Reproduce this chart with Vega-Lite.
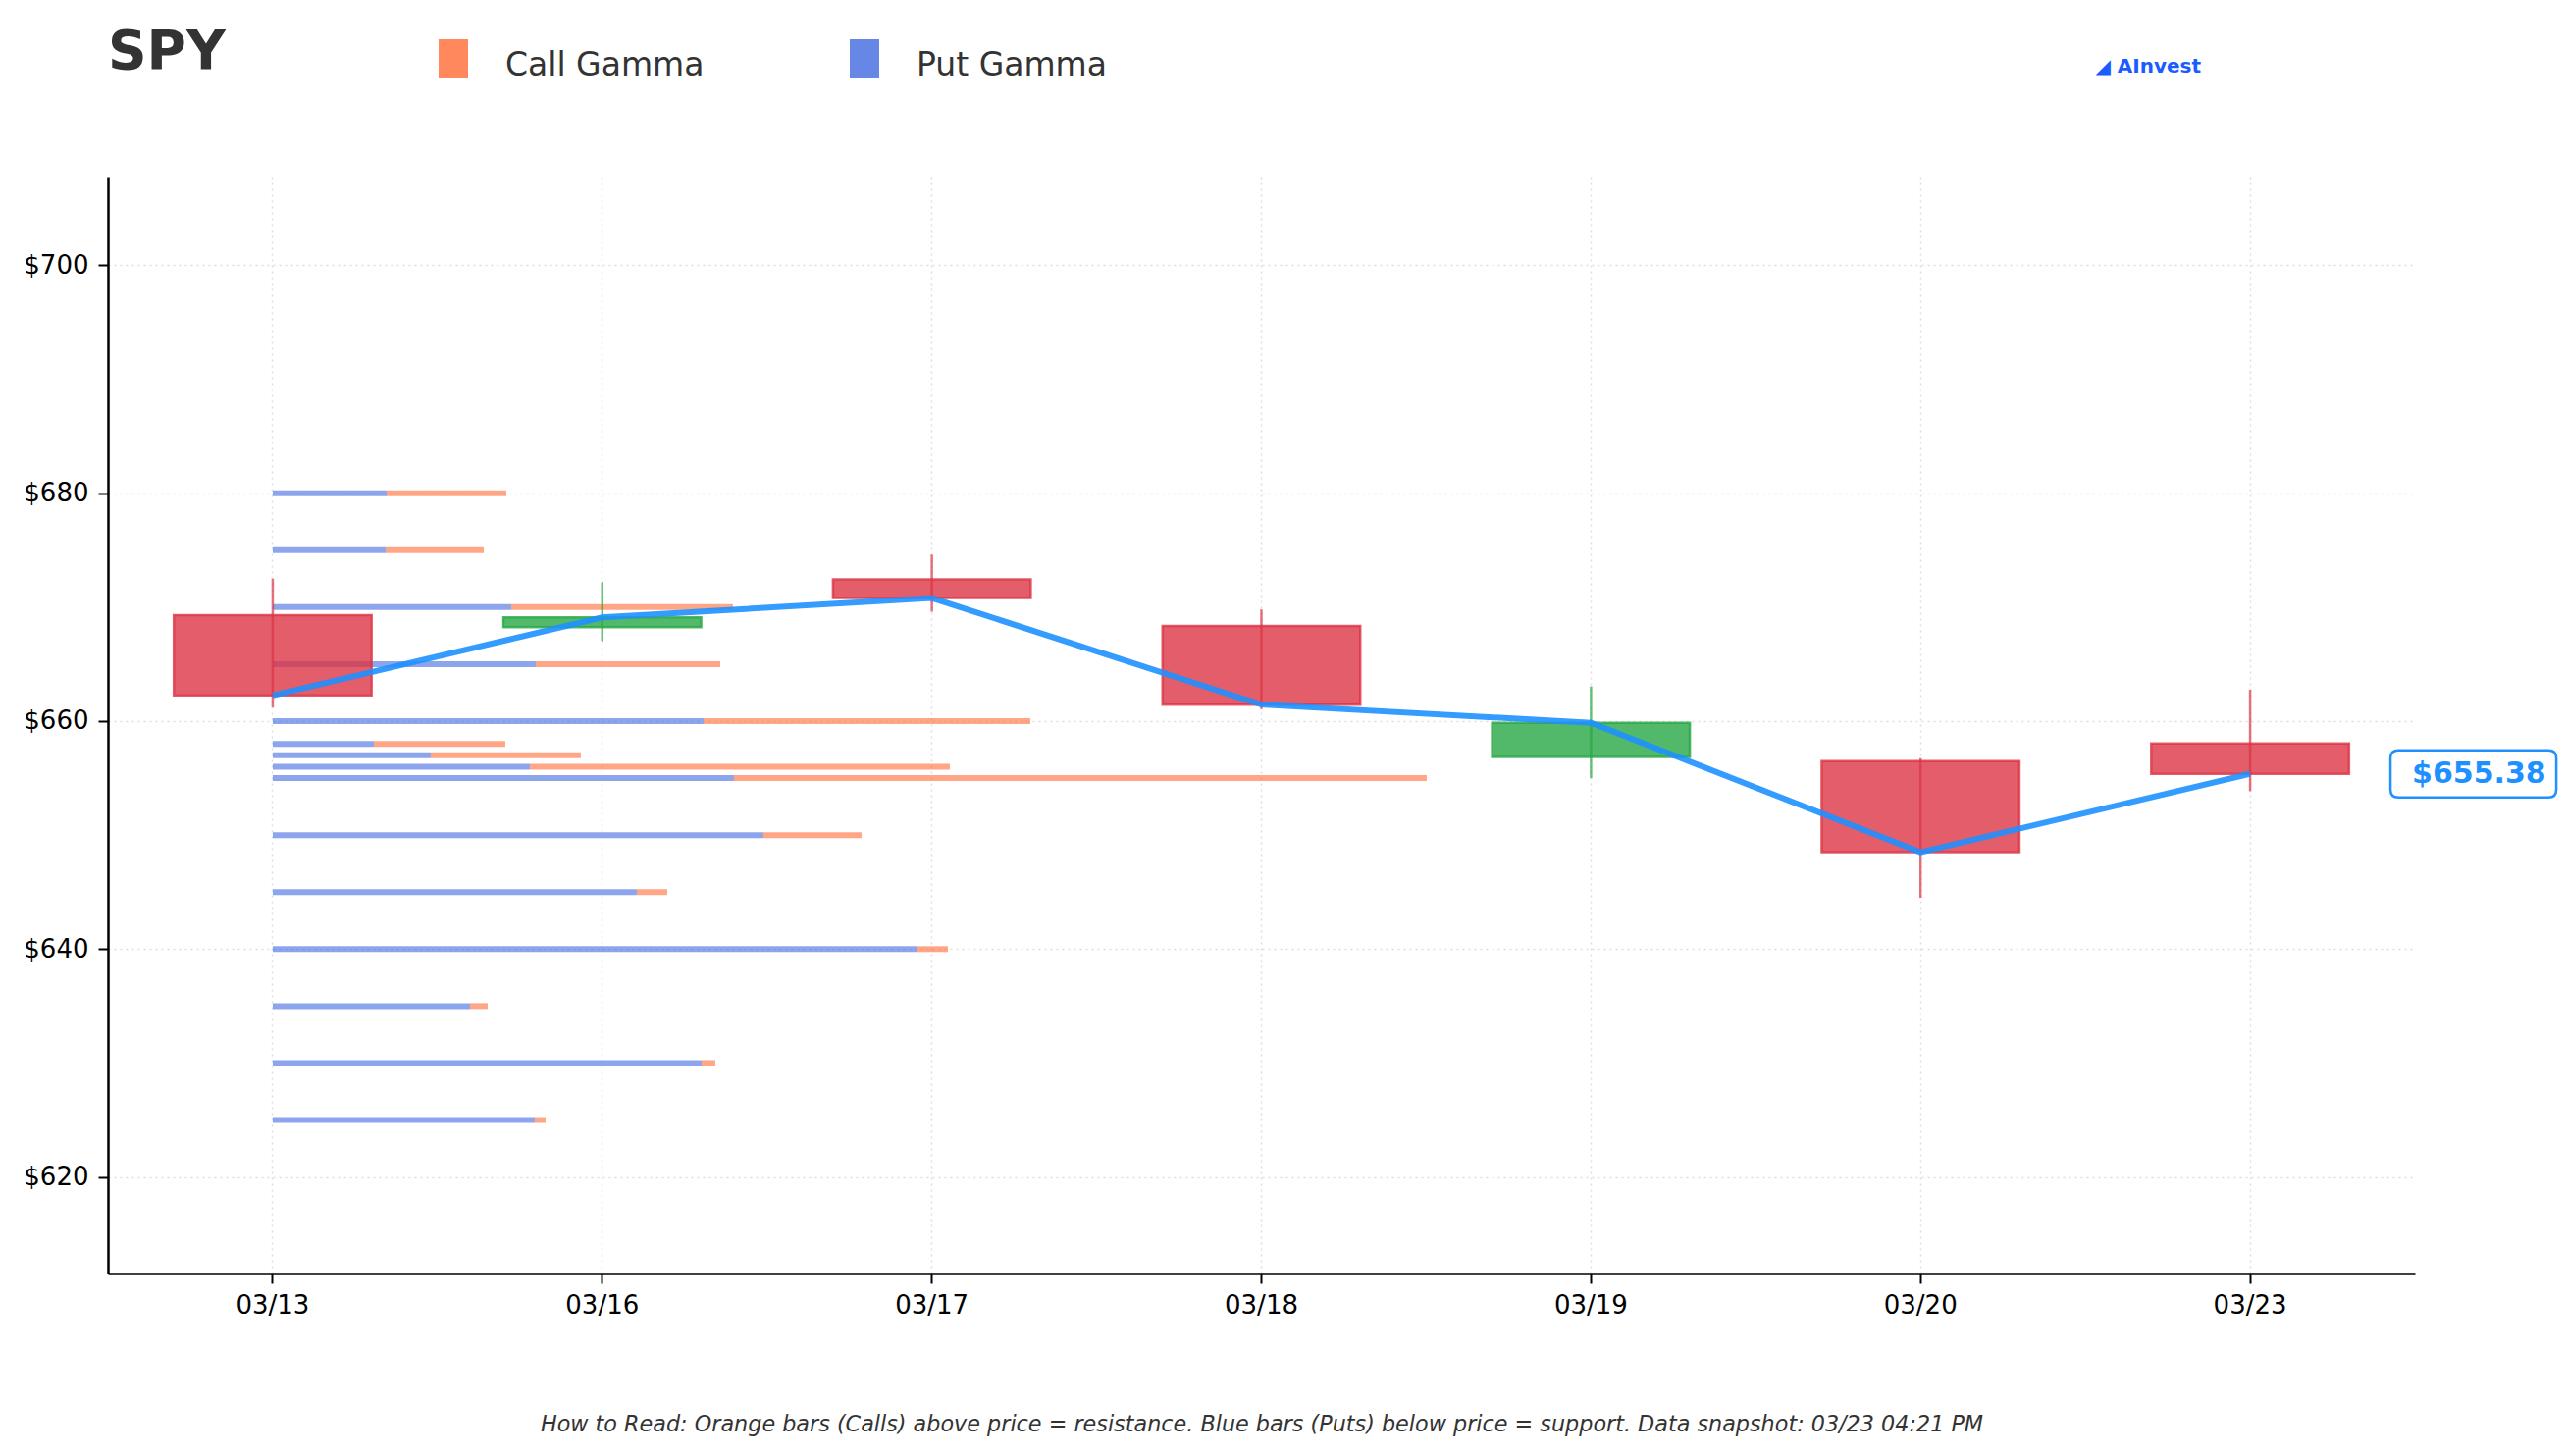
{
  "$schema": "https://vega.github.io/schema/vega-lite/v6.json",
  "width": 2351,
  "height": 1118,
  "autosize": {"type": "none"},
  "padding": {"left": 110, "top": 180, "right": 155, "bottom": 186},
  "background": "white",
  "config": {"font": "DejaVu Sans", "view": {"stroke": null}},
  "title": {"text": "SPY", "anchor": "start", "frame": "group", "fontSize": 55, "fontWeight": "bold", "color": "#333333", "offset": -78, "baseline": "alphabetic", "font": "DejaVu Sans"},
  "datasets": {
    "candles": [
      {"date": "03/13", "open": 669.3, "high": 672.5, "low": 661.2, "close": 662.25},
      {"date": "03/16", "open": 668.25, "high": 672.2, "low": 667.0, "close": 669.1},
      {"date": "03/17", "open": 672.45, "high": 674.6, "low": 669.6, "close": 670.8},
      {"date": "03/18", "open": 668.35, "high": 669.8, "low": 661.05, "close": 661.45},
      {"date": "03/19", "open": 656.85, "high": 663.05, "low": 655.0, "close": 659.85},
      {"date": "03/20", "open": 656.5, "high": 656.75, "low": 644.5, "close": 648.5},
      {"date": "03/23", "open": 658.05, "high": 662.75, "low": 653.85, "close": 655.38}
    ],
    "gamma": [
      {"strike": 680, "type": "Put Gamma", "gamma": 116}, {"strike": 680, "type": "Call Gamma", "gamma": 122},
      {"strike": 675, "type": "Put Gamma", "gamma": 115}, {"strike": 675, "type": "Call Gamma", "gamma": 100},
      {"strike": 670, "type": "Put Gamma", "gamma": 243}, {"strike": 670, "type": "Call Gamma", "gamma": 226},
      {"strike": 665, "type": "Put Gamma", "gamma": 268}, {"strike": 665, "type": "Call Gamma", "gamma": 188},
      {"strike": 660, "type": "Put Gamma", "gamma": 439}, {"strike": 660, "type": "Call Gamma", "gamma": 333},
      {"strike": 658, "type": "Put Gamma", "gamma": 103}, {"strike": 658, "type": "Call Gamma", "gamma": 134},
      {"strike": 657, "type": "Put Gamma", "gamma": 161}, {"strike": 657, "type": "Call Gamma", "gamma": 153},
      {"strike": 656, "type": "Put Gamma", "gamma": 262}, {"strike": 656, "type": "Call Gamma", "gamma": 428},
      {"strike": 655, "type": "Put Gamma", "gamma": 470}, {"strike": 655, "type": "Call Gamma", "gamma": 706},
      {"strike": 650, "type": "Put Gamma", "gamma": 500}, {"strike": 650, "type": "Call Gamma", "gamma": 100},
      {"strike": 645, "type": "Put Gamma", "gamma": 371}, {"strike": 645, "type": "Call Gamma", "gamma": 31},
      {"strike": 640, "type": "Put Gamma", "gamma": 657}, {"strike": 640, "type": "Call Gamma", "gamma": 31},
      {"strike": 635, "type": "Put Gamma", "gamma": 201}, {"strike": 635, "type": "Call Gamma", "gamma": 18},
      {"strike": 630, "type": "Put Gamma", "gamma": 437}, {"strike": 630, "type": "Call Gamma", "gamma": 14},
      {"strike": 625, "type": "Put Gamma", "gamma": 267}, {"strike": 625, "type": "Call Gamma", "gamma": 11}
    ]
  },
  "layer": [
    {
      "data": {"name": "gamma"},
      "mark": {"type": "bar", "height": 6, "opacity": 0.6, "orient": "horizontal"},
      "encoding": {
        "x": {"field": "gamma", "type": "quantitative", "stack": "zero", "scale": {"domain": [-167.95, 2183.05], "nice": false, "zero": false}, "axis": null},
        "y": {"field": "strike", "type": "quantitative", "scale": {"domain": [611.96, 707.35], "nice": false, "zero": false},
          "axis": {"title": "◢ AInvest", "titleAngle": 0, "titleX": 2025, "titleY": -113, "titleAlign": "left", "titleBaseline": "middle", "titleFontSize": 20, "titleFontWeight": "bold", "titleColor": "#1A5CFF",
            "values": [620, 640, 660, 680, 700], "labelExpr": "'$' + datum.value", "labelFontSize": 26, "labelColor": "#000000", "labelPadding": 10,
            "tickSize": 10, "tickWidth": 2, "tickColor": "#000000", "domainColor": "#000000", "domainWidth": 2.5,
            "grid": true, "gridColor": "#dddddd", "gridWidth": 1.5, "gridDash": [2, 4]}},
        "color": {"field": "type", "type": "nominal", "scale": {"domain": ["Call Gamma", "Put Gamma"], "range": ["#FF6B35", "#4169E1"]},
          "legend": {"orient": "none", "legendX": 332, "legendY": -133.5, "direction": "horizontal", "title": null, "padding": 0,
            "labelFontSize": 33, "labelColor": "#333333", "labelOffset": 33, "labelLimit": 500, "columnPadding": 143,
            "symbolType": "M-0.75,-1.325L0.75,-1.325L0.75,0.675L-0.75,0.675Z", "symbolSize": 1600, "symbolOpacity": 0.8, "symbolStrokeWidth": 0}},
        "order": {"field": "type", "sort": "descending"}
      }
    },
    {
      "data": {"name": "candles"},
      "layer": [
        {
          "mark": {"type": "bar", "width": {"band": 0.6}, "fillOpacity": 0.8, "strokeOpacity": 0.8, "strokeWidth": 2.5},
          "encoding": {
            "x": {"field": "date", "type": "ordinal", "scale": {"type": "band", "paddingInner": 0, "paddingOuter": 0},
              "axis": {"title": "How to Read: Orange bars (Calls) above price = resistance. Blue bars (Puts) below price = support. Data snapshot: 03/23 04:21 PM",
                "titleFontStyle": "italic", "titleFontWeight": "normal", "titleFontSize": 22.3, "titleColor": "#333333", "titlePadding": 97,
                "labelAngle": 0, "labelFontSize": 26, "labelColor": "#000000", "labelPadding": 9, "bandPosition": 0.5,
                "tickSize": 10, "tickWidth": 2, "tickColor": "#000000", "domainColor": "#000000", "domainWidth": 2.5,
                "grid": true, "gridColor": "#dddddd", "gridWidth": 1.5, "gridDash": [2, 4]}},
            "y": {"field": "open", "type": "quantitative", "scale": {"domain": [611.96, 707.35], "nice": false, "zero": false},
              "axis": {"title": "◢ AInvest", "titleAngle": 0, "titleX": 2025, "titleY": -113, "titleAlign": "left", "titleBaseline": "middle", "titleFontSize": 20, "titleFontWeight": "bold", "titleColor": "#1A5CFF",
                "values": [620, 640, 660, 680, 700], "labelExpr": "'$' + datum.value", "labelFontSize": 26, "labelColor": "#000000", "labelPadding": 10,
                "tickSize": 10, "tickWidth": 2, "tickColor": "#000000", "domainColor": "#000000", "domainWidth": 2.5,
                "grid": true, "gridColor": "#dddddd", "gridWidth": 1.5, "gridDash": [2, 4]}},
            "y2": {"field": "close"},
            "fill": {"condition": {"test": "datum.close >= datum.open", "value": "#28a745"}, "value": "#dc3545"},
            "stroke": {"condition": {"test": "datum.close >= datum.open", "value": "#28a745"}, "value": "#dc3545"}
          }
        },
        {
          "mark": {"type": "rule", "strokeWidth": 2.5, "opacity": 0.7},
          "encoding": {
            "x": {"field": "date", "type": "ordinal", "scale": {"type": "band", "paddingInner": 0, "paddingOuter": 0},
              "axis": {"title": "How to Read: Orange bars (Calls) above price = resistance. Blue bars (Puts) below price = support. Data snapshot: 03/23 04:21 PM",
                "titleFontStyle": "italic", "titleFontWeight": "normal", "titleFontSize": 22.3, "titleColor": "#333333", "titlePadding": 97,
                "labelAngle": 0, "labelFontSize": 26, "labelColor": "#000000", "labelPadding": 9, "bandPosition": 0.5,
                "tickSize": 10, "tickWidth": 2, "tickColor": "#000000", "domainColor": "#000000", "domainWidth": 2.5,
                "grid": true, "gridColor": "#dddddd", "gridWidth": 1.5, "gridDash": [2, 4]}},
            "y": {"field": "low", "type": "quantitative", "scale": {"domain": [611.96, 707.35], "nice": false, "zero": false},
              "axis": {"title": "◢ AInvest", "titleAngle": 0, "titleX": 2025, "titleY": -113, "titleAlign": "left", "titleBaseline": "middle", "titleFontSize": 20, "titleFontWeight": "bold", "titleColor": "#1A5CFF",
                "values": [620, 640, 660, 680, 700], "labelExpr": "'$' + datum.value", "labelFontSize": 26, "labelColor": "#000000", "labelPadding": 10,
                "tickSize": 10, "tickWidth": 2, "tickColor": "#000000", "domainColor": "#000000", "domainWidth": 2.5,
                "grid": true, "gridColor": "#dddddd", "gridWidth": 1.5, "gridDash": [2, 4]}},
            "y2": {"field": "high"},
            "color": {"condition": {"test": "datum.close >= datum.open", "value": "#28a745"}, "value": "#dc3545"}
          }
        },
        {
          "mark": {"type": "line", "color": "#1E90FF", "opacity": 0.9, "strokeWidth": 6},
          "encoding": {
            "x": {"field": "date", "type": "ordinal", "scale": {"type": "band", "paddingInner": 0, "paddingOuter": 0},
              "axis": {"title": "How to Read: Orange bars (Calls) above price = resistance. Blue bars (Puts) below price = support. Data snapshot: 03/23 04:21 PM",
                "titleFontStyle": "italic", "titleFontWeight": "normal", "titleFontSize": 22.3, "titleColor": "#333333", "titlePadding": 97,
                "labelAngle": 0, "labelFontSize": 26, "labelColor": "#000000", "labelPadding": 9, "bandPosition": 0.5,
                "tickSize": 10, "tickWidth": 2, "tickColor": "#000000", "domainColor": "#000000", "domainWidth": 2.5,
                "grid": true, "gridColor": "#dddddd", "gridWidth": 1.5, "gridDash": [2, 4]}},
            "y": {"field": "close", "type": "quantitative", "scale": {"domain": [611.96, 707.35], "nice": false, "zero": false},
              "axis": {"title": "◢ AInvest", "titleAngle": 0, "titleX": 2025, "titleY": -113, "titleAlign": "left", "titleBaseline": "middle", "titleFontSize": 20, "titleFontWeight": "bold", "titleColor": "#1A5CFF",
                "values": [620, 640, 660, 680, 700], "labelExpr": "'$' + datum.value", "labelFontSize": 26, "labelColor": "#000000", "labelPadding": 10,
                "tickSize": 10, "tickWidth": 2, "tickColor": "#000000", "domainColor": "#000000", "domainWidth": 2.5,
                "grid": true, "gridColor": "#dddddd", "gridWidth": 1.5, "gridDash": [2, 4]}}
          }
        },
        {
          "transform": [{"filter": "datum.date == '03/23'"}],
          "mark": {"type": "point", "shape": "M1.51,-0.24L3.04,-0.24Q3.12,-0.24 3.12,-0.16L3.12,0.16Q3.12,0.24 3.04,0.24L1.51,0.24Q1.43,0.24 1.43,0.16L1.43,-0.16Q1.43,-0.24 1.51,-0.24Z", "size": 40000, "filled": true, "fill": "white", "stroke": "#1E90FF", "strokeWidth": 2.5, "opacity": 1},
          "encoding": {
            "x": {"field": "date", "type": "ordinal", "scale": {"type": "band", "paddingInner": 0, "paddingOuter": 0},
              "axis": {"title": "How to Read: Orange bars (Calls) above price = resistance. Blue bars (Puts) below price = support. Data snapshot: 03/23 04:21 PM",
                "titleFontStyle": "italic", "titleFontWeight": "normal", "titleFontSize": 22.3, "titleColor": "#333333", "titlePadding": 97,
                "labelAngle": 0, "labelFontSize": 26, "labelColor": "#000000", "labelPadding": 9, "bandPosition": 0.5,
                "tickSize": 10, "tickWidth": 2, "tickColor": "#000000", "domainColor": "#000000", "domainWidth": 2.5,
                "grid": true, "gridColor": "#dddddd", "gridWidth": 1.5, "gridDash": [2, 4]}},
            "y": {"field": "close", "type": "quantitative", "scale": {"domain": [611.96, 707.35], "nice": false, "zero": false},
              "axis": {"title": "◢ AInvest", "titleAngle": 0, "titleX": 2025, "titleY": -113, "titleAlign": "left", "titleBaseline": "middle", "titleFontSize": 20, "titleFontWeight": "bold", "titleColor": "#1A5CFF",
                "values": [620, 640, 660, 680, 700], "labelExpr": "'$' + datum.value", "labelFontSize": 26, "labelColor": "#000000", "labelPadding": 10,
                "tickSize": 10, "tickWidth": 2, "tickColor": "#000000", "domainColor": "#000000", "domainWidth": 2.5,
                "grid": true, "gridColor": "#dddddd", "gridWidth": 1.5, "gridDash": [2, 4]}}
          }
        },
        {
          "transform": [{"filter": "datum.date == '03/23'"}],
          "mark": {"type": "text", "align": "left", "baseline": "middle", "dx": 165, "fontSize": 30, "fontWeight": "bold", "color": "#1E90FF"},
          "encoding": {
            "x": {"field": "date", "type": "ordinal", "scale": {"type": "band", "paddingInner": 0, "paddingOuter": 0},
              "axis": {"title": "How to Read: Orange bars (Calls) above price = resistance. Blue bars (Puts) below price = support. Data snapshot: 03/23 04:21 PM",
                "titleFontStyle": "italic", "titleFontWeight": "normal", "titleFontSize": 22.3, "titleColor": "#333333", "titlePadding": 97,
                "labelAngle": 0, "labelFontSize": 26, "labelColor": "#000000", "labelPadding": 9, "bandPosition": 0.5,
                "tickSize": 10, "tickWidth": 2, "tickColor": "#000000", "domainColor": "#000000", "domainWidth": 2.5,
                "grid": true, "gridColor": "#dddddd", "gridWidth": 1.5, "gridDash": [2, 4]}},
            "y": {"field": "close", "type": "quantitative", "scale": {"domain": [611.96, 707.35], "nice": false, "zero": false},
              "axis": {"title": "◢ AInvest", "titleAngle": 0, "titleX": 2025, "titleY": -113, "titleAlign": "left", "titleBaseline": "middle", "titleFontSize": 20, "titleFontWeight": "bold", "titleColor": "#1A5CFF",
                "values": [620, 640, 660, 680, 700], "labelExpr": "'$' + datum.value", "labelFontSize": 26, "labelColor": "#000000", "labelPadding": 10,
                "tickSize": 10, "tickWidth": 2, "tickColor": "#000000", "domainColor": "#000000", "domainWidth": 2.5,
                "grid": true, "gridColor": "#dddddd", "gridWidth": 1.5, "gridDash": [2, 4]}},
            "text": {"field": "close", "type": "quantitative", "format": "$.2f"}
          }
        }
      ]
    }
  ],
  "resolve": {"scale": {"x": "independent"}, "axis": {"x": "independent"}}
}
